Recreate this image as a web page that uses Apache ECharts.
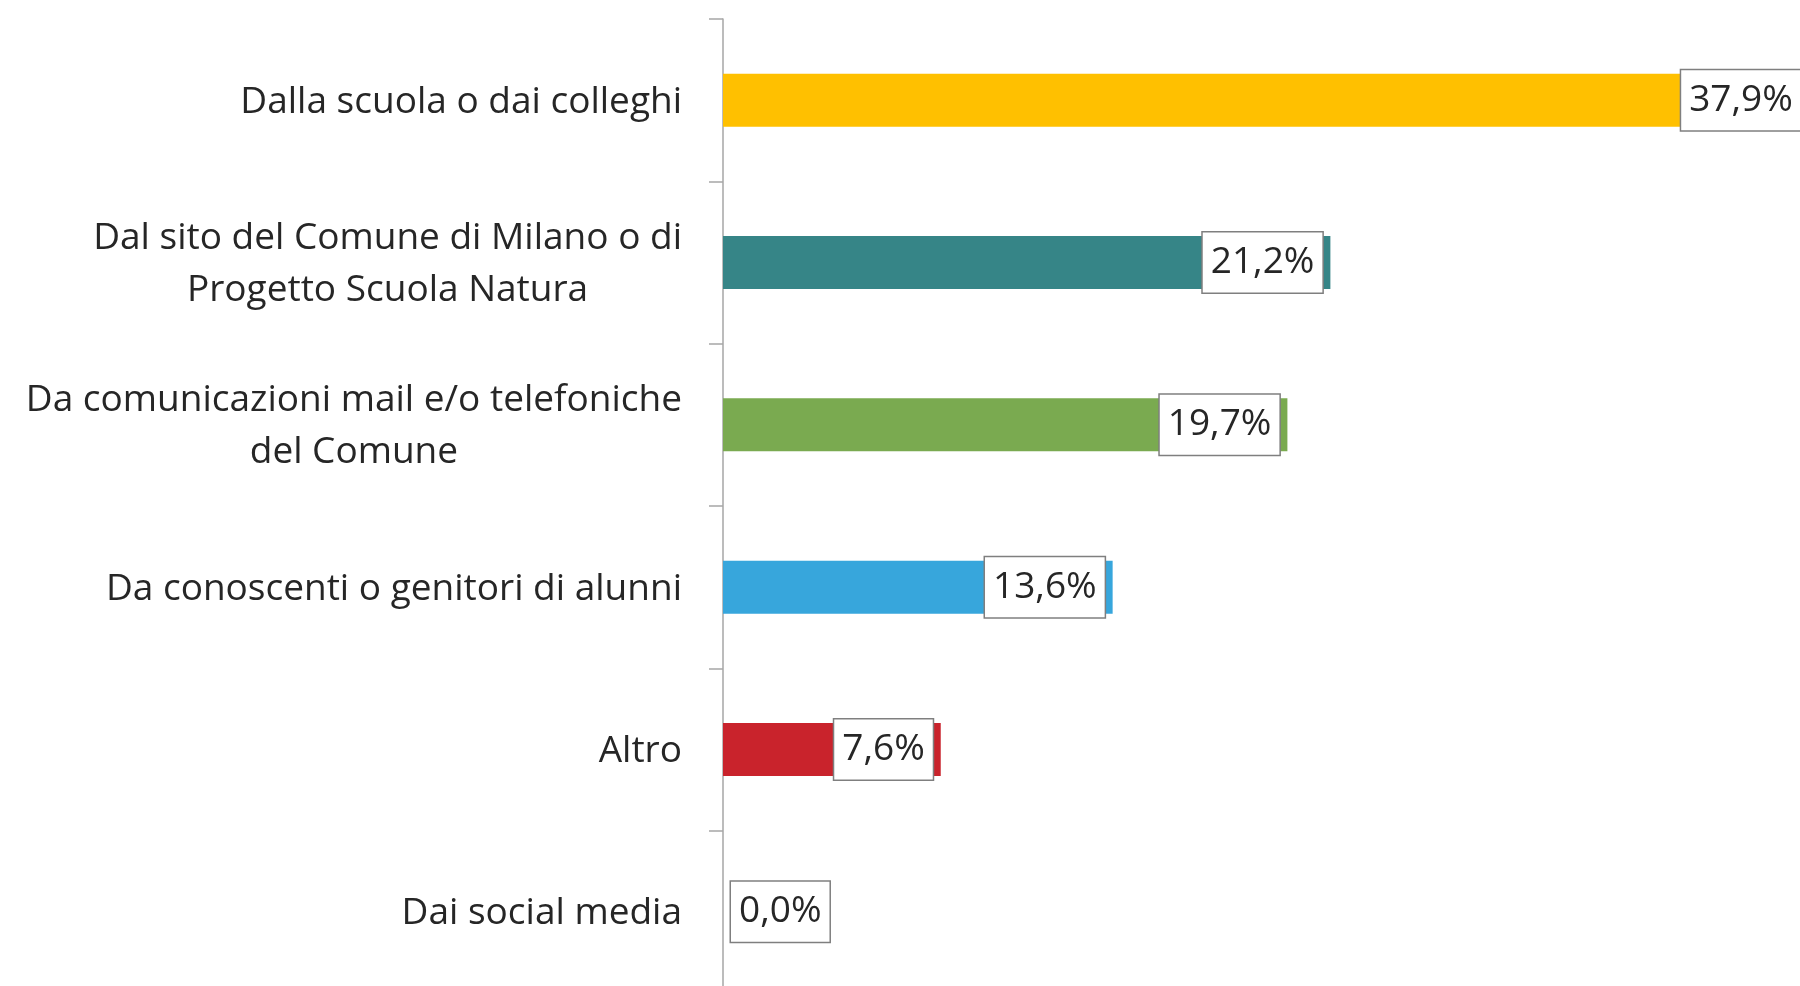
<!DOCTYPE html>
<html>
<head>
<meta charset="utf-8">
<script src="https://cdn.jsdelivr.net/npm/echarts@6/dist/echarts.min.js"></script>
<style>
  html, body { margin: 0; padding: 0; background: #fff; }
  #chart { width: 1800px; height: 986px; }
</style>
</head>
<body>
<div id="chart"></div>
<script>
// categorie (dall'alto in basso)
var categorie = [
  'Dalla scuola o dai colleghi',
  'Dal sito del Comune di Milano o di\nProgetto Scuola Natura',
  'Da comunicazioni mail e/o telefoniche\ndel Comune',
  'Da conoscenti o genitori di alunni',
  'Altro',
  'Dai social media'
]
// percentuali
var valori = [37.9, 21.2, 19.7, 13.6, 7.6, 0.0]
var colori = ['#FFC000', '#368587', '#7AAA50', '#37A6DC', '#C9232C', '#888888']

var chartDom = document.getElementById('chart')
var myChart = echarts.init(chartDom)

var dati = valori.map(function (v, i) {
  return {
    value: v,
    itemStyle: { color: colori[i] },
    label: v === 0 ? { position: 'right', distance: 8 } : {}
  }
})

var option = {
  animation: false,
  grid: {
    left: 723,
    top: 19,
    right: -69,
    bottom: -7,
    outerBoundsMode: 'none',
    containLabel: false
  },
  xAxis: {
    type: 'value',
    min: 0,
    max: 40,
    show: false
  },
  yAxis: {
    type: 'category',
    inverse: true,
    data: categorie,
    axisLine: { show: true, lineStyle: { color: '#a6a6a6', width: 1.5 } },
    axisTick: { show: true, length: 14, lineStyle: { color: '#a6a6a6', width: 1.5 } },
    splitLine: { show: false },
    axisLabel: {
      margin: 41,
      align: 'right',
      formatter: function (val) {
        return val.split('\n').map(function (r) { return '{c|' + r + '}' }).join('\n')
      },
      rich: {
        c: {
          align: 'center',
          fontFamily: 'Open Sans',
          fontSize: 37,
          lineHeight: 52,
          padding: [4, 0, 0, 0],
          color: '#262626'
        }
      }
    }
  },
  series: [{
    type: 'bar',
    data: dati,
    barWidth: 53,
    clip: false,
    label: {
      show: true,
      position: 'insideRight',
      distance: 8,
      formatter: function (p) {
        return p.value.toFixed(1).replace('.', ',') + '%'
      },
      fontFamily: 'Open Sans',
      fontSize: 37,
      lineHeight: 42,
      color: '#262626',
      backgroundColor: '#ffffff',
      borderColor: '#7f7f7f',
      borderWidth: 1.5,
      padding: [11, 8, 7, 8]
    }
  }]
}

myChart.setOption(option)
</script>
</body>
</html>
